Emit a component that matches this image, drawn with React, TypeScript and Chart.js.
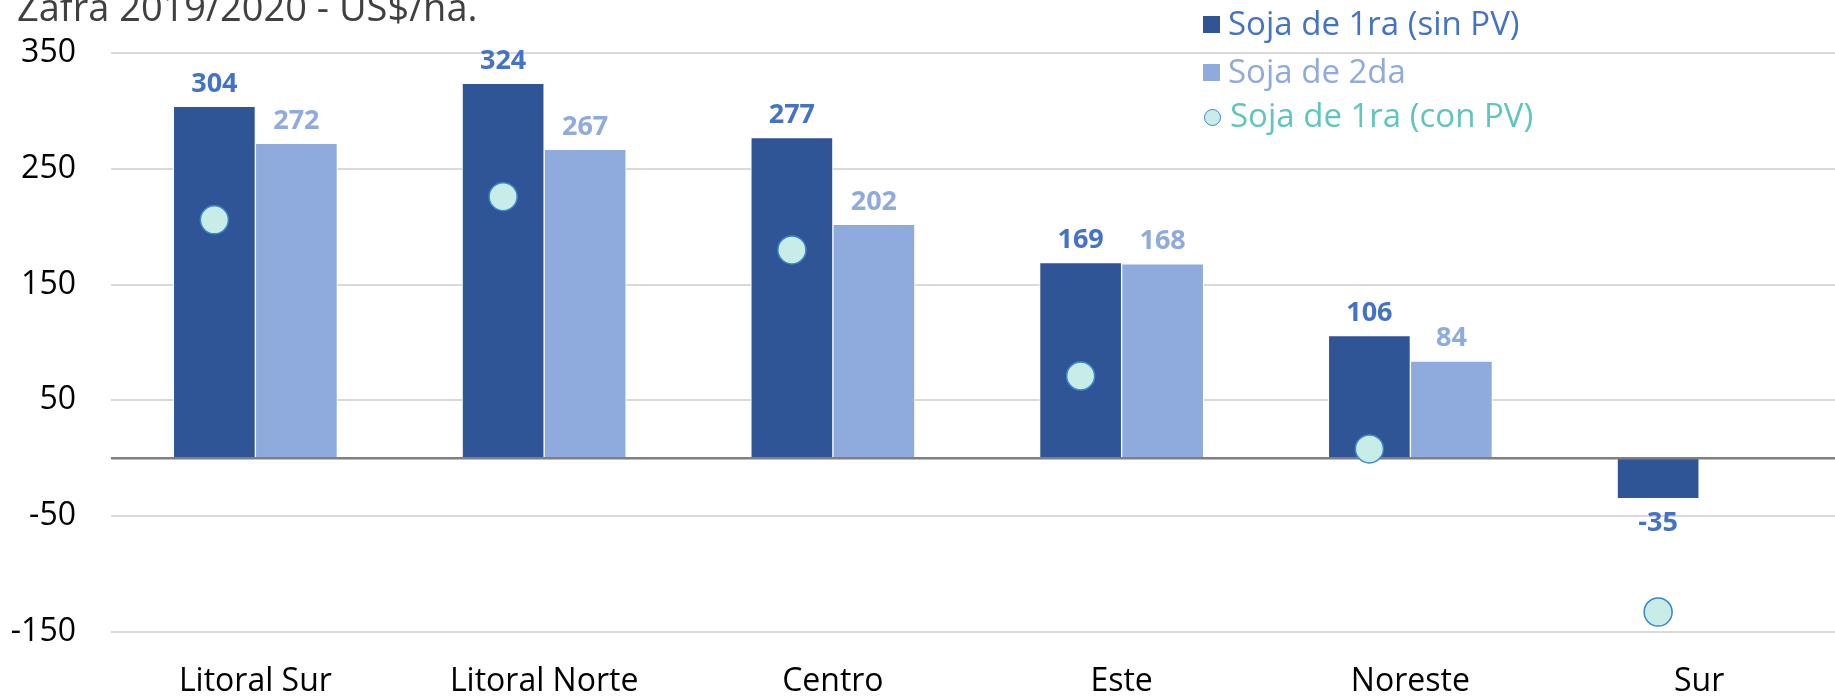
import React, { useEffect, useRef } from "react";
import { Chart, registerables } from "chart.js";

Chart.register(...registerables);

const categories = ["Litoral Sur", "Litoral Norte", "Centro", "Este", "Noreste", "Sur"];
const seriesNames = ["Soja de 1ra (sin PV)", "Soja de 2da", "Soja de 1ra (con PV)"];
const soja1raSinPV: (number | null)[] = [304, 324, 277, 169, 106, -35];
const soja2da: (number | null)[] = [272, 267, 202, 168, 84, null];
const soja1raConPV: number[] = [206, 226, 180, 71, 8, -133];
const yTicks = [-150, -50, 50, 150, 250, 350];
const titleText = "Zafra 2019/2020 - US$/ha.";

const FONT = "'Open Sans'";
const barColors = ["#2F5597", "#8FAADC"];
const labelColors = ["#4472C4", "#8FAADC"];
const pointFill = "#C8ECE7";
const pointBorder = "#3B87C9";

const CANVAS_W = 1859;

export default function App() {
  const ref = useRef<HTMLCanvasElement>(null);

  useEffect(() => {
    const canvas = ref.current!;
    const zeroLine = {
      id: "zeroLine",
      afterDatasetDraw(chart: any, args: any) {
        if (args.index !== 0) return;
        const { ctx, chartArea, scales } = chart;
        const y = scales.y.getPixelForValue(0);
        ctx.save();
        ctx.strokeStyle = "#7F7F7F";
        ctx.lineWidth = 2.5;
        ctx.beginPath();
        ctx.moveTo(chartArea.left, y);
        ctx.lineTo(chartArea.right, y);
        ctx.stroke();
        ctx.restore();
      },
    };
    // put the "con PV" markers over the "sin PV" bar of the same region
    const alignPoints = {
      id: "alignPoints",
      afterDatasetsUpdate(chart: any) {
        const bars = chart.getDatasetMeta(0).data;
        chart.getDatasetMeta(2).data.forEach((pt: any, i: number) => {
          if (bars[i]) pt.x = bars[i].x;
        });
      },
    };
    const valueLabels = {
      id: "valueLabels",
      afterDatasetsDraw(chart: any) {
        const { ctx } = chart;
        ctx.save();
        ctx.font = `bold 27px ${FONT}`;
        ctx.textAlign = "center";
        ctx.textBaseline = "alphabetic";
        [0, 1].forEach((di) => {
          const meta = chart.getDatasetMeta(di);
          const ds = chart.data.datasets[di];
          ctx.fillStyle = labelColors[di];
          meta.data.forEach((el: any, i: number) => {
            const v = ds.data[i];
            if (v == null) return;
            const y = v >= 0 ? el.y - 14.5 : el.y + 32.7;
            ctx.fillText(String(v), el.x, y);
          });
        });
        ctx.restore();
      },
    };

    const barCommon = {
      order: 2,
      barThickness: 82,
      borderWidth: 1,
      borderColor: "#ffffff",
    };

    const chart = new Chart(canvas, {
      type: "bar",
      data: {
        labels: categories,
        datasets: [
          { label: seriesNames[0], data: soja1raSinPV, backgroundColor: barColors[0], ...barCommon } as any,
          { label: seriesNames[1], data: soja2da, backgroundColor: barColors[1], ...barCommon } as any,
          {
            type: "line",
            label: seriesNames[2],
            data: soja1raConPV,
            showLine: false,
            pointRadius: 14,
            pointHoverRadius: 14,
            pointBackgroundColor: pointFill,
            pointBorderColor: pointBorder,
            pointBorderWidth: 1.5,
            order: 1,
          } as any,
        ],
      },
      options: {
        animation: false,
        responsive: false,
        maintainAspectRatio: false,
        layout: { padding: { top: 51.2, left: 0, right: 0, bottom: 0 } },
        plugins: {
          legend: { display: false },
          tooltip: { enabled: false },
          title: { display: false },
        },
        scales: {
          x: {
            type: "category",
            grid: { display: false },
            border: { display: false },
            ticks: {
              color: "#000",
              font: { size: 32, family: FONT },
              padding: 23,
              maxRotation: 0,
              autoSkip: false,
            },
            afterFit: (s: any) => {
              s.height = 64.3;
            },
          },
          y: {
            min: -150,
            max: 350,
            afterBuildTicks: (s: any) => {
              s.ticks = yTicks.map((v) => ({ value: v }));
            },
            grid: { color: "#D9D9D9", lineWidth: 2, drawTicks: false },
            border: { display: false },
            ticks: {
              color: "#000",
              font: { size: 32, family: FONT },
              padding: 35,
            },
            afterFit: (s: any) => {
              s.width = 111;
            },
          },
        } as any,
      },
      plugins: [alignPoints, zeroLine, valueLabels],
    });
    return () => chart.destroy();
  }, []);

  const textBase = { position: "absolute" as const, whiteSpace: "nowrap" as const, fontFamily: FONT };
  const LF = 33;
  const lt = (baseline: number) => baseline - 0.888 * LF;

  return (
    <div style={{ position: "fixed", left: 0, top: 0, width: 1835, height: 697, overflow: "hidden", background: "#fff" }}>
      <canvas ref={ref} width={CANVAS_W} height={697} style={{ position: "absolute", left: 0, top: -1.5, width: CANVAS_W, height: 697 }} />
      <div style={{ ...textBase, left: 17, top: -12.7, fontSize: 38, lineHeight: "38px", color: "#404040" }}>{titleText}</div>
      <div style={{ position: "absolute", left: 1203, top: 15.5, width: 17, height: 17, background: barColors[0] }} />
      <div style={{ ...textBase, left: 1228, top: lt(35), fontSize: LF, lineHeight: `${LF}px`, color: labelColors[0] }}>{seriesNames[0]}</div>
      <div style={{ position: "absolute", left: 1203, top: 64, width: 17, height: 17, background: barColors[1] }} />
      <div style={{ ...textBase, left: 1228, top: lt(83.5), fontSize: LF, lineHeight: `${LF}px`, color: labelColors[1] }}>{seriesNames[1]}</div>
      <div style={{ position: "absolute", left: 1204, top: 109, width: 15, height: 15, borderRadius: "50%", background: pointFill, border: `1.5px solid ${pointBorder}` }} />
      <div style={{ ...textBase, left: 1230, top: lt(127.5), fontSize: LF, lineHeight: `${LF}px`, color: "#5FC6BC" }}>{seriesNames[2]}</div>
    </div>
  );
}
